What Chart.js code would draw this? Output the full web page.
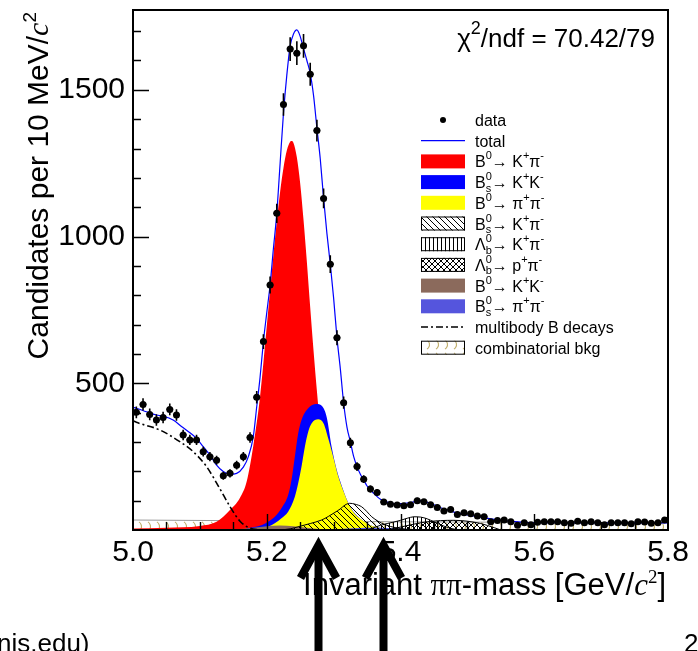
<!DOCTYPE html>
<html>
<head>
<meta charset="utf-8">
<script src="https://cdn.jsdelivr.net/npm/chart.js"></script>
<style>
  html, body { margin: 0; padding: 0; background: #fff; }
  canvas { display: block; }
</style>
</head>
<body>
<canvas id="massFit" width="698" height="651"></canvas>
<script>
// candidates per 10 MeV bin, 5.00 -> 5.80 GeV (80 bins)
const counts = [
  401, 428, 394, 375, 383, 411, 392, 324, 307, 307,
  267, 250, 238, 185, 193, 221, 250, 315, 452, 642,
  835, 1079, 1450, 1639, 1625, 1650, 1553, 1361, 1130, 906,
  655, 434, 297, 216, 173, 140, 128, 95, 88, 85,
  83, 86, 100, 96, 86, 77, 65, 70, 53, 59,
  55, 48, 45, 28, 32, 34, 28, 16, 25, 18,
  26, 28, 28, 28, 25, 23, 30, 25, 28, 25,
  18, 25, 25, 25, 21, 28, 27, 23, 25, 34
];
const binCenters = counts.map((_, i) => +(5.005 + 0.01 * i).toFixed(3));

// fit curves, [mass, candidates]
const totalFit = [
  [5.00, 418], [5.005, 415], [5.02, 403], [5.035, 392], [5.045, 388], [5.06, 375],
  [5.073, 352], [5.083, 335], [5.095, 312], [5.105, 284], [5.115, 256], [5.125, 221],
  [5.135, 199], [5.145, 190], [5.155, 193], [5.165, 214], [5.1725, 250], [5.18, 320],
  [5.185, 420], [5.19, 520], [5.195, 642], [5.20, 740], [5.205, 835], [5.21, 960],
  [5.215, 1079], [5.22, 1250], [5.225, 1420], [5.23, 1550], [5.235, 1650], [5.24, 1690],
  [5.245, 1704], [5.25, 1682], [5.255, 1640], [5.26, 1600], [5.265, 1556], [5.27, 1480],
  [5.275, 1370], [5.28, 1265], [5.285, 1130], [5.29, 1010], [5.295, 906], [5.30, 790],
  [5.305, 655], [5.31, 550], [5.315, 432], [5.32, 350], [5.325, 301], [5.33, 250],
  [5.335, 216], [5.34, 190], [5.345, 170], [5.35, 150], [5.36, 125], [5.37, 105],
  [5.38, 95], [5.39, 90], [5.40, 90], [5.41, 92], [5.42, 96], [5.43, 100],
  [5.44, 94], [5.45, 86], [5.46, 76], [5.47, 68], [5.48, 61], [5.49, 56],
  [5.50, 51], [5.52, 44], [5.54, 36], [5.56, 31], [5.58, 27], [5.60, 25],
  [5.70, 24], [5.80, 24]
];
const b0Kpi = [
  [5.00, 5], [5.05, 8], [5.10, 14], [5.125, 28], [5.145, 68], [5.16, 110], [5.17, 165],
  [5.18, 289], [5.19, 455], [5.20, 694], [5.21, 937], [5.215, 1051], [5.22, 1153],
  [5.225, 1234], [5.23, 1293], [5.235, 1323], [5.2375, 1326], [5.24, 1319], [5.245, 1270],
  [5.25, 1181], [5.255, 1056], [5.26, 913], [5.265, 758], [5.27, 610], [5.275, 474],
  [5.28, 352], [5.29, 175], [5.30, 75], [5.31, 30], [5.32, 12], [5.35, 3], [5.40, 0]
];
const bsKK = [
  [5.17, 5], [5.193, 17], [5.202, 28], [5.212, 45], [5.222, 74], [5.232, 119],
  [5.237, 170], [5.242, 250], [5.247, 329], [5.252, 375], [5.262, 415], [5.274, 429],
  [5.285, 415], [5.29, 381], [5.297, 284], [5.305, 202], [5.31, 165], [5.315, 132],
  [5.322, 92], [5.33, 61], [5.34, 38], [5.35, 22], [5.36, 12], [5.38, 4], [5.40, 1], [5.42, 0]
];
const b0pipi = [
  [5.18, 2], [5.193, 5], [5.202, 11], [5.212, 23], [5.222, 40], [5.232, 62],
  [5.242, 113], [5.247, 159], [5.252, 216], [5.257, 284], [5.262, 335], [5.267, 363],
  [5.277, 377], [5.285, 363], [5.292, 312], [5.30, 244], [5.307, 182], [5.315, 130],
  [5.322, 91], [5.33, 60], [5.34, 38], [5.35, 22], [5.36, 12], [5.38, 4], [5.40, 1], [5.42, 0]
];
const bsKpi = [
  [5.22, 0], [5.235, 4], [5.247, 11], [5.265, 22], [5.282, 34], [5.292, 46], [5.302, 60],
  [5.31, 72], [5.317, 85], [5.324, 91], [5.332, 88], [5.342, 79], [5.35, 62], [5.357, 45],
  [5.365, 32], [5.372, 23], [5.385, 12], [5.40, 5], [5.42, 0]
];
const lbKpi = [
  [5.35, 0], [5.36, 8], [5.37, 16], [5.38, 22], [5.39, 27], [5.40, 33], [5.41, 40],
  [5.42, 45], [5.43, 44], [5.44, 38], [5.45, 28], [5.46, 18], [5.47, 9], [5.48, 3], [5.49, 0]
];
const lbPpi = [
  [5.38, 0], [5.40, 10], [5.42, 20], [5.44, 28], [5.46, 32], [5.48, 33], [5.50, 30],
  [5.52, 22], [5.54, 8], [5.55, 0]
];
const b0KK = [
  [5.13, 0], [5.16, 3], [5.18, 8], [5.20, 13], [5.22, 15], [5.24, 13], [5.26, 8], [5.28, 3], [5.30, 0]
];
const bspipi = [
  [5.28, 0], [5.30, 2], [5.32, 5], [5.34, 7], [5.36, 8], [5.38, 7], [5.40, 5], [5.42, 2], [5.45, 0]
];
const multibody = [
  [5.00, 372], [5.005, 367], [5.04, 341], [5.07, 301], [5.09, 267], [5.11, 216],
  [5.13, 140], [5.145, 80], [5.16, 30], [5.175, 6], [5.19, 0]
];
const combinatorial = [[5.00, 34], [5.20, 31], [5.40, 28], [5.60, 26], [5.80, 24]];

const legendLabels = [
  'data', 'total',
  'B^{0}\u2192 K^{+}\u03c0^{-}', 'B_{s}^{0}\u2192 K^{+}K^{-}', 'B^{0}\u2192 \u03c0^{+}\u03c0^{-}',
  'B_{s}^{0}\u2192 K^{+}\u03c0^{-}', '\u039b_{b}^{0}\u2192 K^{+}\u03c0^{-}', '\u039b_{b}^{0}\u2192 p^{+}\u03c0^{-}',
  'B^{0}\u2192 K^{+}K^{-}', 'B_{s}^{0}\u2192 \u03c0^{+}\u03c0^{-}', 'multibody B decays', 'combinatorial bkg'
];
const fitLabel = '\u03c7^{2}/ndf = 70.42/79';

const SANS = "'Liberation Sans', Arial, Helvetica, sans-serif";
const SERIF = "'Liberation Serif', 'Times New Roman', serif";

function tile(w, h, paint) {
  const c = document.createElement('canvas');
  c.width = w; c.height = h;
  const g = c.getContext('2d');
  paint(g);
  return g.createPattern(c, 'repeat');
}
const diagHatch = tile(6, 6, g => {
  g.strokeStyle = '#000'; g.lineWidth = 1;
  g.beginPath(); g.moveTo(-1, -1); g.lineTo(7, 7); g.moveTo(-1, 5); g.lineTo(1, 7); g.moveTo(5, -1); g.lineTo(7, 1); g.stroke();
});
const vertHatch = tile(4, 4, g => {
  g.strokeStyle = '#000'; g.lineWidth = 1;
  g.beginPath(); g.moveTo(1.5, 0); g.lineTo(1.5, 4); g.stroke();
});
const crossHatch = tile(6, 6, g => {
  g.strokeStyle = '#000'; g.lineWidth = 1;
  g.beginPath();
  g.moveTo(-1, -1); g.lineTo(7, 7); g.moveTo(-1, 5); g.lineTo(1, 7); g.moveTo(5, -1); g.lineTo(7, 1);
  g.moveTo(7, -1); g.lineTo(-1, 7); g.moveTo(1, -1); g.lineTo(-1, 1); g.moveTo(7, 5); g.lineTo(5, 7);
  g.stroke();
});
const combHatch = tile(9, 13, g => {
  g.strokeStyle = '#bfad68'; g.lineWidth = 1.1;
  g.beginPath(); g.arc(1, 6.5, 5.5, -1.0, 1.0); g.stroke();
});

function curve(points, fillStyle, order, extra) {
  return Object.assign({
    type: 'line',
    data: points.map(([x, y]) => ({ x, y })),
    pointRadius: 0,
    borderWidth: 0,
    borderColor: 'rgba(0,0,0,0)',
    backgroundColor: fillStyle,
    fill: 'origin',
    cubicInterpolationMode: 'monotone',
    order
  }, extra || {});
}

function parseRich(s) {
  const out = [];
  let i = 0, buf = '';
  while (i < s.length) {
    const ch = s[i];
    if ((ch === '^' || ch === '_') && s[i + 1] === '{') {
      const end = s.indexOf('}', i);
      const grp = s.slice(i + 2, end);
      if (buf) { out.push({ t: buf }); buf = ''; }
      const last = out[out.length - 1];
      if (last && last.script && !last[ch]) last[ch] = grp;
      else out.push({ script: true, [ch]: grp });
      i = end + 1;
    } else { buf += ch; i++; }
  }
  if (buf) out.push({ t: buf });
  return out;
}

function drawRich(ctx, text, x, y, size, measureOnly) {
  let cx = x;
  for (const tok of parseRich(text)) {
    if (!tok.script) {
      ctx.font = size + 'px ' + SANS;
      if (!measureOnly) ctx.fillText(tok.t, cx, y);
      cx += ctx.measureText(tok.t).width;
    } else {
      const s = Math.round(size * 0.68);
      ctx.font = s + 'px ' + SANS;
      let w = 0;
      if (tok['^']) { if (!measureOnly) ctx.fillText(tok['^'], cx, y - size * 0.5); w = Math.max(w, ctx.measureText(tok['^']).width); }
      if (tok['_']) { if (!measureOnly) ctx.fillText(tok['_'], cx, y + size * 0.22); w = Math.max(w, ctx.measureText(tok['_']).width); }
      cx += w;
    }
  }
  return cx - x;
}

// title pieces: [text, font, raise]
function drawPieces(ctx, pieces, x, y) {
  let cx = x;
  for (const [t, f, r] of pieces) {
    ctx.font = f;
    ctx.fillText(t, cx, y - (r || 0));
    cx += ctx.measureText(t).width;
  }
}
function piecesWidth(ctx, pieces) {
  let w = 0;
  for (const [t, f] of pieces) { ctx.font = f; w += ctx.measureText(t).width; }
  return w;
}

const decor = {
  id: 'decor',
  afterDatasetsDraw(chart) {
    const ctx = chart.ctx, xs = chart.scales.x, ys = chart.scales.y;
    ctx.save();
    ctx.strokeStyle = '#000';
    ctx.lineWidth = 1.6;
    ctx.beginPath();
    binCenters.forEach((m, i) => {
      const v = counts[i], e = Math.sqrt(v);
      const px = xs.getPixelForValue(m), py = ys.getPixelForValue(v);
      ctx.moveTo(px, ys.getPixelForValue(v - e));
      ctx.lineTo(px, ys.getPixelForValue(v + e));
      ctx.moveTo(xs.getPixelForValue(m - 0.005), py);
      ctx.lineTo(xs.getPixelForValue(m + 0.005), py);
    });
    ctx.stroke();
    ctx.restore();
  },
  afterDraw(chart) {
    const ctx = chart.ctx, xs = chart.scales.x, ys = chart.scales.y;
    const { left: L, right: R, top: T, bottom: B } = chart.chartArea;
    ctx.save();
    ctx.fillStyle = '#000';
    ctx.strokeStyle = '#000';

    // frame and inward ticks
    ctx.lineWidth = 2;
    ctx.strokeRect(L, T, R - L, B - T);
    ctx.lineWidth = 1.4;
    ctx.beginPath();
    for (let v = 100; v <= 1700; v += 100) {
      const y = Math.round(ys.getPixelForValue(v)) + 0.5;
      ctx.moveTo(L, y); ctx.lineTo(L + (v % 500 === 0 ? 16 : 8), y);
    }
    for (let i = 1; i < 16; i++) {
      const x = Math.round(xs.getPixelForValue(5 + i * 0.05)) + 0.5;
      ctx.moveTo(x, B); ctx.lineTo(x, B - (i % 4 === 0 ? 16 : 8));
    }
    ctx.stroke();

    // axis titles
    ctx.textBaseline = 'alphabetic';
    const xTitle = [
      ['Invariant ', '31px ' + SANS], ['\u03c0\u03c0', '31px ' + SERIF], ['-mass [GeV/', '31px ' + SANS],
      ['c', 'italic 31px ' + SERIF], ['2', '19px ' + SERIF, 12], [']', '31px ' + SANS]
    ];
    drawPieces(ctx, xTitle, 666 - piecesWidth(ctx, xTitle), 595);
    const yTitle = [
      ['Candidates per 10 MeV/', '30px ' + SANS], ['c', 'italic 30px ' + SERIF], ['2', '19px ' + SANS, 12]
    ];
    ctx.save();
    ctx.translate(48, 12 + piecesWidth(ctx, yTitle));
    ctx.rotate(-Math.PI / 2);
    drawPieces(ctx, yTitle, 0, 0);
    ctx.restore();

    // fit quality
    const fw = drawRich(ctx, fitLabel, 0, 0, 26, true);
    drawRich(ctx, fitLabel, 655 - fw, 47, 26);

    // legend
    const lx0 = 421, lx1 = 465, tx = 475, row0 = 120, dy = 20.7;
    const boxFill = [null, null, '#ff0000', '#0000ff', '#ffff00', diagHatch, vertHatch, crossHatch, '#8b6a5c', '#5555dd', null, combHatch];
    const boxBorder = [false, false, false, false, false, true, true, true, false, false, false, true];
    legendLabels.forEach((lab, i) => {
      const y = row0 + i * dy;
      if (i === 0) {
        ctx.beginPath(); ctx.arc((lx0 + lx1) / 2, y, 3, 0, Math.PI * 2); ctx.fill();
      } else if (i === 1) {
        ctx.strokeStyle = '#0000ff'; ctx.lineWidth = 1.2;
        ctx.beginPath(); ctx.moveTo(lx0, y); ctx.lineTo(lx1, y); ctx.stroke();
      } else if (i === 10) {
        ctx.strokeStyle = '#000'; ctx.lineWidth = 1.5; ctx.setLineDash([7, 3, 2, 3]);
        ctx.beginPath(); ctx.moveTo(lx0, y); ctx.lineTo(lx1, y); ctx.stroke();
        ctx.setLineDash([]);
      } else {
        ctx.fillStyle = '#fff'; ctx.fillRect(lx0, y - 7, lx1 - lx0, 14);
        ctx.fillStyle = boxFill[i]; ctx.fillRect(lx0, y - 7, lx1 - lx0, 14);
        if (boxBorder[i]) {
          ctx.strokeStyle = '#000'; ctx.lineWidth = 1;
          ctx.strokeRect(lx0 + 0.5, y - 6.5, lx1 - lx0 - 1, 13);
        }
      }
      ctx.fillStyle = '#000';
      drawRich(ctx, lab, tx, y + 6, 16);
    });

    // slide leftovers
    ctx.font = '26px ' + SANS;
    ctx.fillText('nis.edu)', -3, 652);
    ctx.fillText('2', 684, 652);

    // annotation arrows
    ctx.strokeStyle = '#000';
    ctx.lineWidth = 8;
    ctx.lineJoin = 'miter';
    for (const ax of [318.5, 383.5]) {
      ctx.beginPath(); ctx.moveTo(ax, 660); ctx.lineTo(ax, 548); ctx.stroke();
      ctx.beginPath(); ctx.moveTo(ax - 18, 578); ctx.lineTo(ax, 545); ctx.lineTo(ax + 18, 578); ctx.stroke();
    }
    ctx.restore();
  }
};

new Chart(document.getElementById('massFit'), {
  type: 'line',
  data: {
    datasets: [
      {
        type: 'line',
        label: 'data',
        data: binCenters.map((x, i) => ({ x, y: counts[i] })),
        showLine: false,
        pointRadius: 3.5,
        pointBackgroundColor: '#000',
        pointBorderColor: '#000',
        pointBorderWidth: 0,
        order: 1
      },
      curve(totalFit, 'rgba(0,0,0,0)', 2, { fill: false, borderColor: '#0000ff', borderWidth: 1.2 }),
      curve(multibody, 'rgba(0,0,0,0)', 3, { fill: false, borderColor: '#000', borderWidth: 1.6, borderDash: [7, 3, 2, 3] }),
      curve(lbPpi, crossHatch, 4, { borderColor: '#000', borderWidth: 1 }),
      curve(lbKpi, vertHatch, 5, { borderColor: '#000', borderWidth: 1 }),
      curve(bsKpi, diagHatch, 6, { borderColor: '#000', borderWidth: 1 }),
      curve(bspipi, '#5555dd', 7),
      curve(b0KK, '#8b6a5c', 8),
      curve(b0pipi, '#ffff00', 9),
      curve(bsKK, '#0000ff', 10),
      curve(b0Kpi, '#ff0000', 11),
      curve(combinatorial, combHatch, 12, { borderColor: '#999', borderWidth: 1 })
    ]
  },
  options: {
    responsive: false,
    animation: false,
    devicePixelRatio: 1,
    events: [],
    layout: { padding: { top: 10, right: 30, left: 0, bottom: 0 } },
    plugins: { legend: { display: false }, tooltip: { enabled: false } },
    scales: {
      x: {
        type: 'linear', min: 5.0, max: 5.8,
        grid: { display: false, drawTicks: false },
        border: { display: false },
        ticks: {
          stepSize: 0.05, autoSkip: false, maxRotation: 0, padding: 5, color: '#000',
          font: { family: SANS, size: 30 },
          callback: v => (Math.round(v * 100) % 20 === 0 ? v.toFixed(1) : '')
        },
        afterFit: s => { s.height = 121; s.paddingLeft = 0; s.paddingRight = 0; }
      },
      y: {
        min: 0, max: 1772,
        grid: { display: false, drawTicks: false },
        border: { display: false },
        ticks: {
          stepSize: 100, autoSkip: false, padding: 8, color: '#000',
          font: { family: SANS, size: 30 },
          callback: v => (v > 0 && v % 500 === 0 ? String(v) : '')
        },
        afterFit: s => { s.width = 133; s.paddingTop = 0; s.paddingBottom = 0; }
      }
    }
  },
  plugins: [decor]
});
</script>
</body>
</html>
